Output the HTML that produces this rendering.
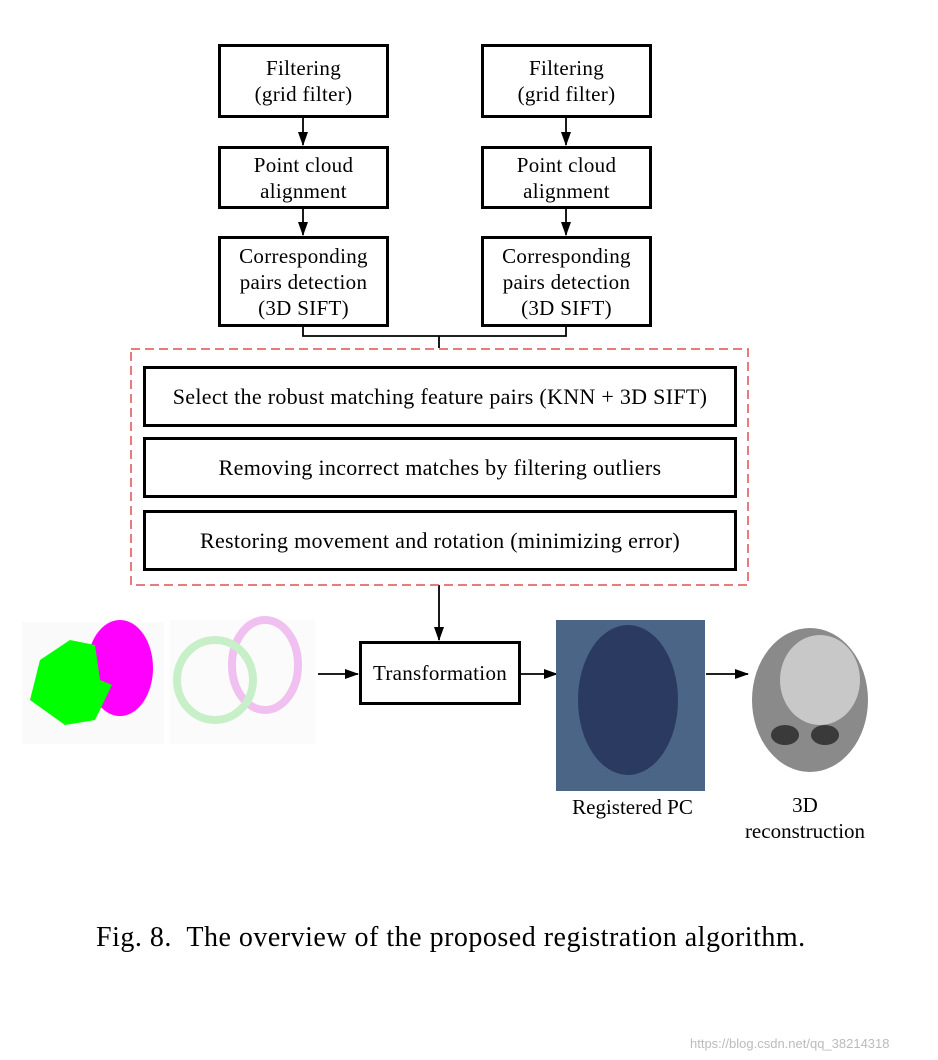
<!DOCTYPE html>
<html><head><style>
body{margin:0;width:938px;height:1060px;background:#fff;position:relative;font-family:"Liberation Serif",serif;overflow:hidden}
.b{position:absolute;border:3px solid #000;box-sizing:border-box;display:flex;align-items:center;justify-content:center;text-align:center;font-size:21px;line-height:26px;letter-spacing:0.3px;background:#fff}
.t{position:absolute;font-size:21px;text-align:center;line-height:26px}
</style></head><body>
<svg width="938" height="1060" style="position:absolute;left:0;top:0">
<defs><marker id="a" markerWidth="14" markerHeight="12" refX="13" refY="6" orient="auto" markerUnits="userSpaceOnUse"><path d="M0,1 L14,6 L0,11z" fill="#000"/></marker></defs>
<g stroke="#000" stroke-width="1.8" fill="none">
<line x1="303" y1="118" x2="303" y2="145" marker-end="url(#a)"/>
<line x1="303" y1="209" x2="303" y2="235" marker-end="url(#a)"/>
<line x1="566" y1="118" x2="566" y2="145" marker-end="url(#a)"/>
<line x1="566" y1="209" x2="566" y2="235" marker-end="url(#a)"/>
<polyline points="303,327 303,336 566,336 566,327"/>
<line x1="439" y1="336" x2="439" y2="348"/>
<line x1="439" y1="585" x2="439" y2="640" marker-end="url(#a)"/>
<line x1="318" y1="674" x2="358" y2="674" marker-end="url(#a)"/>
<line x1="521" y1="674" x2="557" y2="674" marker-end="url(#a)"/>
<line x1="706" y1="674" x2="748" y2="674" marker-end="url(#a)"/>
</g>
<rect x="131" y="349" width="617" height="236" fill="none" stroke="#e05050" stroke-width="1.5" stroke-dasharray="9,5"/>
<rect x="22" y="622" width="142" height="122" fill="#fafafa"/>
<rect x="170" y="620" width="145" height="124" fill="#fbfbfb"/>
<ellipse cx="120" cy="668" rx="33" ry="48" fill="#ff00ff"/>
<path d="M40,660 L70,640 L95,645 L100,680 L112,685 L95,720 L65,725 L30,700z" fill="#00ff00"/>
<ellipse cx="265" cy="665" rx="33" ry="45" fill="none" stroke="#f0c0f0" stroke-width="8"/>
<ellipse cx="215" cy="680" rx="38" ry="40" fill="none" stroke="#c8f0c8" stroke-width="8"/>
<rect x="556" y="620" width="149" height="171" fill="#4a6585"/>
<ellipse cx="628" cy="700" rx="50" ry="75" fill="#2a3a60"/>
<ellipse cx="810" cy="700" rx="58" ry="72" fill="#8a8a8a"/>
<ellipse cx="820" cy="680" rx="40" ry="45" fill="#c8c8c8"/>
<ellipse cx="785" cy="735" rx="14" ry="10" fill="#3a3a3a"/>
<ellipse cx="825" cy="735" rx="14" ry="10" fill="#3a3a3a"/>
</svg>
<div class="b" style="left:218px;top:44px;width:171px;height:74px">Filtering<br>(grid filter)</div>
<div class="b" style="left:481px;top:44px;width:171px;height:74px">Filtering<br>(grid filter)</div>
<div class="b" style="left:218px;top:146px;width:171px;height:63px">Point cloud<br>alignment</div>
<div class="b" style="left:481px;top:146px;width:171px;height:63px">Point cloud<br>alignment</div>
<div class="b" style="left:218px;top:236px;width:171px;height:91px">Corresponding<br>pairs detection<br>(3D SIFT)</div>
<div class="b" style="left:481px;top:236px;width:171px;height:91px">Corresponding<br>pairs detection<br>(3D SIFT)</div>
<div class="b" style="left:143px;top:366px;width:594px;height:61px;font-size:22px">Select the robust matching feature pairs (KNN + 3D SIFT)</div>
<div class="b" style="left:143px;top:437px;width:594px;height:61px;font-size:22px">Removing incorrect matches by filtering outliers</div>
<div class="b" style="left:143px;top:510px;width:594px;height:61px;font-size:22px">Restoring movement and rotation (minimizing error)</div>
<div class="b" style="left:359px;top:641px;width:162px;height:64px">Transformation</div>
<div class="t" style="left:550px;top:794px;width:165px">Registered PC</div>
<div class="t" style="left:725px;top:792px;width:160px">3D<br>reconstruction</div>
<div style="position:absolute;left:96px;top:922px;font-size:28px;letter-spacing:0.5px;white-space:nowrap">Fig. 8.&nbsp; The overview of the proposed registration algorithm.</div>
<div style="position:absolute;left:690px;top:1036px;font-size:13px;color:#bbb;font-family:'Liberation Sans',sans-serif">https://blog.csdn.net/qq_38214318</div>
</body></html>
